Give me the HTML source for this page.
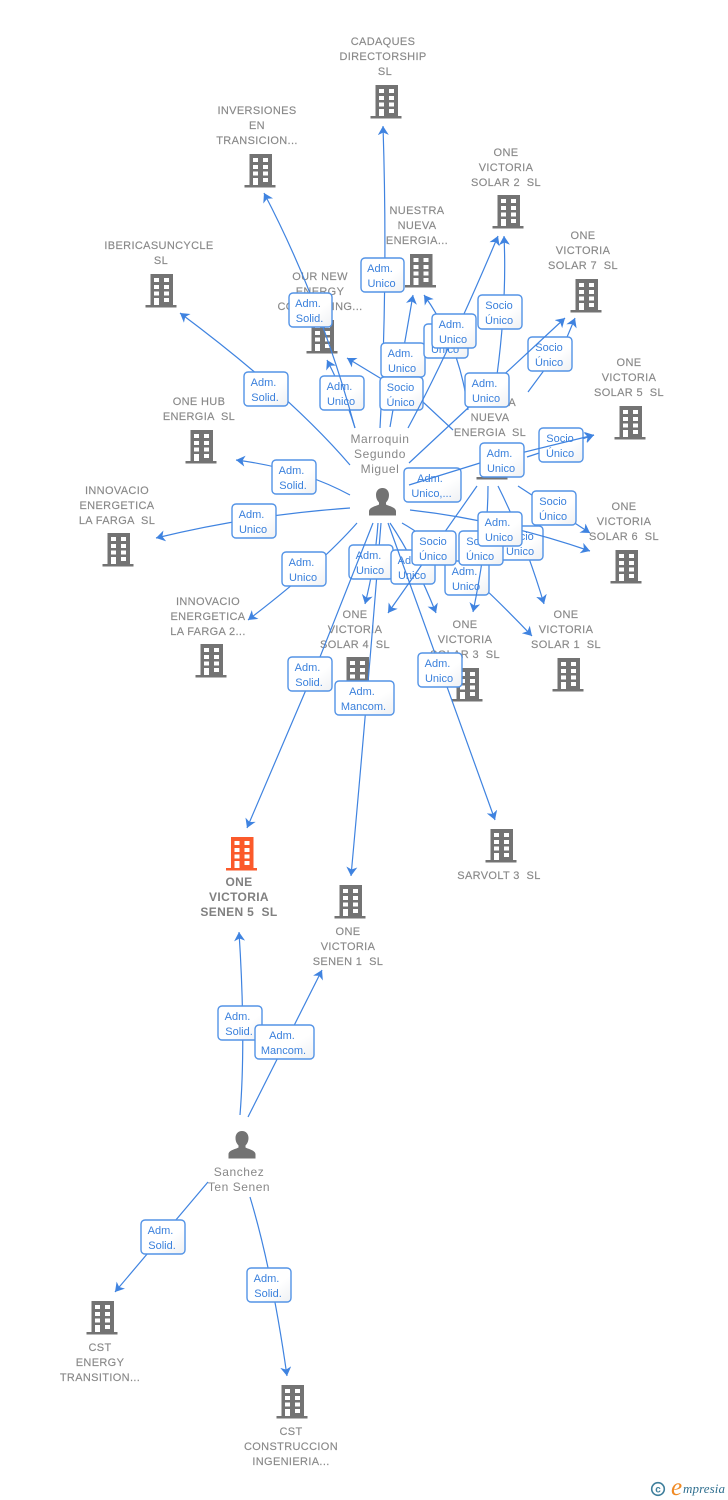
<!DOCTYPE html>
<html><head><meta charset="utf-8"><style>
html,body{margin:0;padding:0;background:#fff}
svg{display:block}
text{font-family:"Liberation Sans",sans-serif}
.l{font-size:11px;fill:#888;stroke:#888;stroke-width:.15px;text-anchor:middle;letter-spacing:.35px;white-space:pre}
.b{font-weight:bold;font-size:12px;fill:#808080;stroke:none}
.p{font-size:12px;fill:#888;text-anchor:middle;letter-spacing:.55px}
.t{font-size:11px;fill:#3a80dc;text-anchor:middle;white-space:pre;transform:translateX(-1px)}
.e{fill:none;stroke:#3f83e0;stroke-width:1.2;marker-end:url(#a)}
.r{fill:url(#g);stroke:#5393e6;stroke-width:1.4}
</style></head><body>
<svg width="728" height="1500" viewBox="0 0 728 1500" xmlns="http://www.w3.org/2000/svg">
<defs>
<linearGradient id="g" x1="0" y1="0" x2="1" y2="1"><stop offset="0" stop-color="#fff"/><stop offset=".6" stop-color="#fff"/><stop offset="1" stop-color="#eef0f3"/></linearGradient>
<marker id="a" markerUnits="userSpaceOnUse" markerWidth="12" markerHeight="12" refX="9" refY="5.5" orient="auto"><path d="M0 0L9 5.5L0 11L2.5 5.5Z" fill="#3f83e0"/></marker>
<symbol id="bd" viewBox="0 0 31 34" width="31" height="34"><path fill-rule="evenodd" fill="currentColor" d="M5 0H27.5V31H31V33.5H0V31H5ZM8.5 4V8H13.5V4ZM18.5 4V8H23.5V4ZM8.5 11V15H13.5V11ZM18.5 11V15H23.5V11ZM8.5 17.5V21.5H13.5V17.5ZM18.5 17.5V21.5H23.5V17.5ZM8.5 24V31H13.5V24ZM18.5 24V28H23.5V24Z"/></symbol>
<symbol id="pr" viewBox="0 0 28 28" width="28" height="28"><path fill="currentColor" d="M14 0C18 0 20.5 3 20.5 7C20.5 10 19.5 12.5 17.5 14.5V16.5C20 18 27 19 27.5 23V27.5H.5V23C1 19 8 18 10.5 16.5V14.5C8.500 12.5 7.500 10 7.500 7C7.500 3 10 0 14 0Z"/></symbol>
</defs>

<g color="#737373">
<use href="#bd" x="370.500" y="85"/>
<use href="#bd" x="244.500" y="154"/>
<use href="#bd" x="492.500" y="195"/>
<use href="#bd" x="405" y="254"/>
<use href="#bd" x="570.500" y="279"/>
<use href="#bd" x="145.500" y="274"/>
<use href="#bd" x="306.500" y="320"/>
<use href="#bd" x="614.500" y="406"/>
<use href="#bd" x="185.500" y="430"/>
<use href="#bd" x="476.500" y="446"/>
<use href="#bd" x="102.500" y="533"/>
<use href="#bd" x="610.500" y="550"/>
<use href="#bd" x="195.500" y="644"/>
<use href="#bd" x="341.500" y="657"/>
<use href="#bd" x="451.500" y="668"/>
<use href="#bd" x="552.500" y="658"/>
<use href="#bd" x="485.500" y="829"/>
<use href="#bd" x="334.500" y="885"/>
<use href="#bd" x="86.500" y="1301"/>
<use href="#bd" x="276.500" y="1385"/>
<use href="#pr" x="368.500" y="488"/>
<use href="#pr" x="228" y="1131"/>
</g>
<use href="#bd" x="226" y="837" color="#fb5a2b"/>

<g>
<text class="l" x="383" y="45">CADAQUES</text><text class="l" x="383" y="60">DIRECTORSHIP</text><text class="l" x="385" y="75">SL</text>
<text class="l" x="257" y="114">INVERSIONES</text><text class="l" x="257" y="129">EN</text><text class="l" x="257" y="144">TRANSICION...</text>
<text class="l" x="506" y="156">ONE</text><text class="l" x="506" y="171">VICTORIA</text><text class="l" x="506" y="186">SOLAR 2  SL</text>
<text class="l" x="417" y="214">NUESTRA</text><text class="l" x="417" y="229">NUEVA</text><text class="l" x="417" y="244">ENERGIA...</text>
<text class="l" x="583" y="239">ONE</text><text class="l" x="583" y="254">VICTORIA</text><text class="l" x="583" y="269">SOLAR 7  SL</text>
<text class="l" x="159" y="249">IBERICASUNCYCLE</text><text class="l" x="161" y="264">SL</text>
<text class="l" x="320" y="280">OUR NEW</text><text class="l" x="320" y="295">ENERGY</text><text class="l" x="320" y="310">CONSULTING...</text>
<text class="l" x="629" y="366">ONE</text><text class="l" x="629" y="381">VICTORIA</text><text class="l" x="629" y="396">SOLAR 5  SL</text>
<text class="l" x="199" y="405">ONE HUB</text><text class="l" x="199" y="420">ENERGIA  SL</text>
<text class="l" x="490.500" y="406">UTOPICA</text><text class="l" x="490" y="421">NUEVA</text><text class="l" x="490" y="436">ENERGIA  SL</text>
<text class="l" x="117" y="494">INNOVACIO</text><text class="l" x="117" y="509">ENERGETICA</text><text class="l" x="117" y="524">LA FARGA  SL</text>
<text class="l" x="624" y="510">ONE</text><text class="l" x="624" y="525">VICTORIA</text><text class="l" x="624" y="540">SOLAR 6  SL</text>
<text class="l" x="208" y="605">INNOVACIO</text><text class="l" x="208" y="620">ENERGETICA</text><text class="l" x="208" y="635">LA FARGA 2...</text>
<text class="l" x="355" y="618">ONE</text><text class="l" x="355" y="633">VICTORIA</text><text class="l" x="355" y="648">SOLAR 4  SL</text>
<text class="l" x="465" y="628">ONE</text><text class="l" x="465" y="643">VICTORIA</text><text class="l" x="465" y="658">SOLAR 3  SL</text>
<text class="l" x="566" y="618">ONE</text><text class="l" x="566" y="633">VICTORIA</text><text class="l" x="566" y="648">SOLAR 1  SL</text>
<text class="l" x="499" y="879">SARVOLT 3  SL</text>
<text class="l b" x="239" y="886">ONE</text><text class="l b" x="239" y="901">VICTORIA</text><text class="l b" x="239" y="916">SENEN 5  SL</text>
<text class="l" x="348" y="935">ONE</text><text class="l" x="348" y="950">VICTORIA</text><text class="l" x="348" y="965">SENEN 1  SL</text>
<text class="l" x="100" y="1351">CST</text><text class="l" x="100" y="1366">ENERGY</text><text class="l" x="100" y="1381">TRANSITION...</text>
<text class="l" x="291" y="1435">CST</text><text class="l" x="291" y="1450">CONSTRUCCION</text><text class="l" x="291" y="1465">INGENIERIA...</text>
</g>
<text class="p" x="380" y="443">Marroquin</text><text class="p" x="380" y="458">Segundo</text><text class="p" x="380" y="473">Miguel</text>
<text class="p" x="239" y="1176">Sanchez</text><text class="p" x="239" y="1191">Ten Senen</text>

<path class="e" d="M380 428Q388 280 383 126"/>
<rect class="r" x="361" y="258" width="43" height="34" rx="4"/><text class="t" x="382.500" y="272">Adm.&#160;</text><text class="t" x="382.500" y="287">Unico</text>

<path class="e" d="M355 428Q345 395 327 360"/>
<rect class="r" x="320" y="376" width="44" height="34" rx="4"/><text class="t" x="342" y="390">Adm.&#160;</text><text class="t" x="342" y="405">Unico</text>

<path class="e" d="M355 428Q320 300 264 193"/>
<rect class="r" x="289" y="293" width="43" height="34" rx="4"/><text class="t" x="310.500" y="307">Adm.&#160;</text><text class="t" x="310.500" y="322">Solid.</text>

<path class="e" d="M350 465Q290 395 180 313"/>
<rect class="r" x="244" y="372" width="44" height="34" rx="4"/><text class="t" x="266" y="386">Adm.&#160;</text><text class="t" x="266" y="401">Solid.</text>

<path class="e" d="M350 495Q300 468 236 460"/>
<rect class="r" x="272" y="460" width="44" height="34" rx="4"/><text class="t" x="294" y="474">Adm.&#160;</text><text class="t" x="294" y="489">Solid.</text>

<path class="e" d="M350 508Q250 515 156 538"/>
<rect class="r" x="232" y="504" width="44" height="34" rx="4"/><text class="t" x="254" y="518">Adm.&#160;</text><text class="t" x="254" y="533">Unico</text>

<path class="e" d="M357 523Q320 565 248 620"/>
<rect class="r" x="282" y="552" width="44" height="34" rx="4"/><text class="t" x="304" y="566">Adm.&#160;</text><text class="t" x="304" y="581">Unico</text>

<path class="e" d="M390 427Q400 370 413 295"/>
<rect class="r" x="381" y="343" width="44" height="34" rx="4"/><text class="t" x="403" y="357">Adm.&#160;</text><text class="t" x="403" y="372">Unico</text>

<path class="e" d="M453 430L423 402L380 378L347 358"/>
<rect class="r" x="380" y="377" width="43" height="33" rx="4"/><text class="t" x="401.500" y="391">Socio</text><text class="t" x="401.500" y="406">Único</text>

<path class="e" d="M468 410Q460 345 424 295"/>
<rect class="r" x="424" y="324" width="44" height="34" rx="4"/><text class="t" x="446" y="338">Socio</text><text class="t" x="446" y="353">Unico</text>

<path class="e" d="M408 428Q450 350 498 236"/>
<rect class="r" x="432" y="314" width="44" height="34" rx="4"/><text class="t" x="454" y="328">Adm.&#160;</text><text class="t" x="454" y="343">Unico</text>

<path class="e" d="M497 375Q507 300 504 236"/>
<rect class="r" x="478" y="295" width="44" height="34" rx="4"/><text class="t" x="500" y="309">Socio</text><text class="t" x="500" y="324">Único</text>

<path class="e" d="M528 392L565 342L575 318"/>
<rect class="r" x="528" y="337" width="44" height="34" rx="4"/><text class="t" x="550" y="351">Socio</text><text class="t" x="550" y="366">Único</text>

<path class="e" d="M409 463L468 408L565 318"/>
<rect class="r" x="465" y="373" width="44" height="34" rx="4"/><text class="t" x="487" y="387">Adm.&#160;</text><text class="t" x="487" y="402">Unico</text>

<path class="e" d="M527 457L594 435"/>
<rect class="r" x="539" y="428" width="44" height="34" rx="4"/><text class="t" x="561" y="442">Socio</text><text class="t" x="561" y="457">Único</text>

<rect class="r" x="404" y="468" width="57" height="34" rx="4"/><text class="t" x="432.500" y="482">Adm.&#160;</text><text class="t" x="432.500" y="497">Unico,...</text>
<path class="e" d="M409 485L480 463L594 435"/>
<rect class="r" x="480" y="443" width="44" height="34" rx="4"/><text class="t" x="502" y="457">Adm.&#160;</text><text class="t" x="502" y="472">Unico</text>

<path class="e" d="M518 486L590 533"/>
<rect class="r" x="532" y="491" width="44" height="34" rx="4"/><text class="t" x="554" y="505">Socio</text><text class="t" x="554" y="520">Único</text>

<path class="e" d="M381 523Q368 690 351 876"/>
<rect class="r" x="335" y="681" width="59" height="34" rx="4"/><text class="t" x="364.500" y="695">Adm.&#160;</text><text class="t" x="364.500" y="710">Mancom.</text>

<path class="e" d="M378 523Q375 565 365 604"/>
<rect class="r" x="349" y="545" width="44" height="34" rx="4"/><text class="t" x="371" y="559">Adm.&#160;</text><text class="t" x="371" y="574">Unico</text>

<path class="e" d="M390 523Q415 560 436 613"/>
<rect class="r" x="391" y="550" width="44" height="34" rx="4"/><text class="t" x="413" y="564">Adm.&#160;</text><text class="t" x="413" y="579">Unico</text>

<path class="e" d="M388 523L495 820"/>
<rect class="r" x="418" y="653" width="44" height="34" rx="4"/><text class="t" x="440" y="667">Adm.&#160;</text><text class="t" x="440" y="682">Unico</text>

<path class="e" d="M373 523L320 657L247 828"/>
<rect class="r" x="288" y="657" width="44" height="34" rx="4"/><text class="t" x="310" y="671">Adm.&#160;</text><text class="t" x="310" y="686">Solid.</text>

<path class="e" d="M402 523Q450 550 532 636"/>
<rect class="r" x="445" y="561" width="44" height="34" rx="4"/><text class="t" x="467" y="575">Adm.&#160;</text><text class="t" x="467" y="590">Unico</text>

<path class="e" d="M498 486Q525 540 544 604"/>
<rect class="r" x="499" y="526" width="44" height="34" rx="4"/><text class="t" x="521" y="540">Socio</text><text class="t" x="521" y="555">Único</text>

<path class="e" d="M488 486Q488 540 473 612"/>
<rect class="r" x="459" y="531" width="44" height="34" rx="4"/><text class="t" x="481" y="545">Socio</text><text class="t" x="481" y="560">Único</text>

<path class="e" d="M477 486L388 613"/>
<rect class="r" x="412" y="531" width="44" height="34" rx="4"/><text class="t" x="434" y="545">Socio</text><text class="t" x="434" y="560">Único</text>

<path class="e" d="M410 510Q500 520 590 551"/>
<rect class="r" x="478" y="512" width="44" height="34" rx="4"/><text class="t" x="500" y="526">Adm.&#160;</text><text class="t" x="500" y="541">Unico</text>

<path class="e" d="M240 1115Q246 1040 239 932"/>
<rect class="r" x="218" y="1006" width="44" height="34" rx="4"/><text class="t" x="240" y="1020">Adm.&#160;</text><text class="t" x="240" y="1035">Solid.</text>

<path class="e" d="M248 1117L322 970"/>
<rect class="r" x="255" y="1025" width="59" height="34" rx="4"/><text class="t" x="284.500" y="1039">Adm.&#160;</text><text class="t" x="284.500" y="1054">Mancom.</text>

<path class="e" d="M208 1182L115 1292"/>
<rect class="r" x="141" y="1220" width="44" height="34" rx="4"/><text class="t" x="163" y="1234">Adm.&#160;</text><text class="t" x="163" y="1249">Solid.</text>

<path class="e" d="M250 1197Q272 1270 287 1376"/>
<rect class="r" x="247" y="1268" width="44" height="34" rx="4"/><text class="t" x="269" y="1282">Adm.&#160;</text><text class="t" x="269" y="1297">Solid.</text>

<circle cx="658" cy="1489" r="6.300" fill="none" stroke="#3f7f9c" stroke-width="1.6"/>
<text x="658" y="1492.500" font-size="10" fill="#3f7f9c" text-anchor="middle" font-weight="bold">c</text>
<text x="671" y="1495" style="font-family:'Liberation Serif',serif" font-size="25" font-style="italic" fill="#f08a24">e</text>
<text x="683" y="1493" style="font-family:'Liberation Serif',serif" font-size="13" font-style="italic" fill="#2f6f8f" letter-spacing=".1">mpresia</text>
</svg>
</body></html>
